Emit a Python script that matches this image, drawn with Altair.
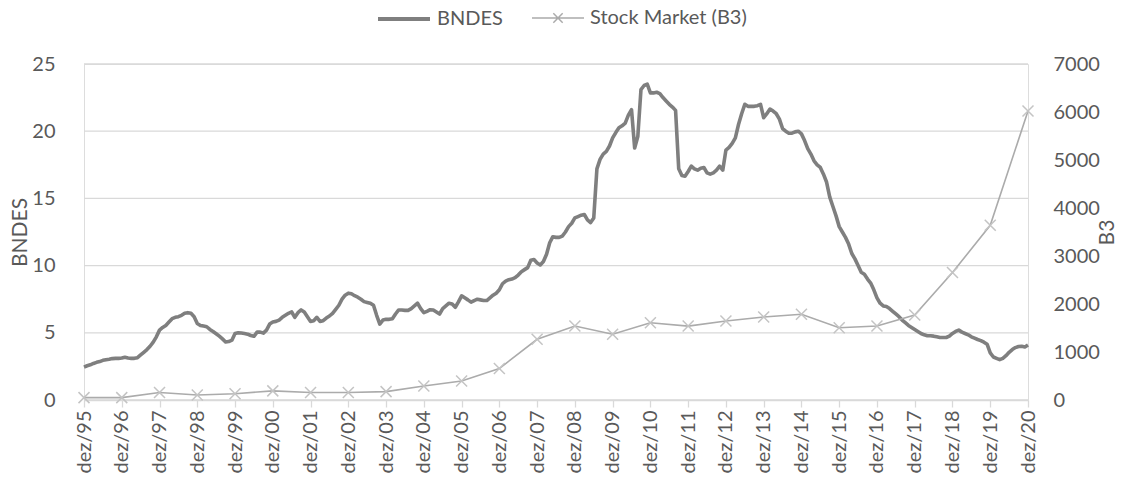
import json
import altair as alt
import pandas as pd

x_labels = ["dez/95", "dez/96", "dez/97", "dez/98", "dez/99", "dez/00", "dez/01",
            "dez/02", "dez/03", "dez/04", "dez/05", "dez/06", "dez/07", "dez/08",
            "dez/09", "dez/10", "dez/11", "dez/12", "dez/13", "dez/14", "dez/15",
            "dez/16", "dez/17", "dez/18", "dez/19", "dez/20"]

series_names = ["BNDES", "Stock Market (B3)"]
left_ticks = [0, 5, 10, 15, 20, 25]
right_ticks = [0, 1000, 2000, 3000, 4000, 5000, 6000, 7000]

# BNDES, monthly from dez/95 to dez/20
bndes_values = [
    2.45,
    2.55, 2.62, 2.72, 2.8, 2.86, 2.95, 3.0, 3.03, 3.08, 3.1, 3.1, 3.12,        # 1996
    3.18, 3.12, 3.1, 3.1, 3.15, 3.35, 3.55, 3.75, 4.0, 4.3, 4.7, 5.2,          # 1997
    5.4, 5.55, 5.8, 6.05, 6.15, 6.2, 6.3, 6.45, 6.5, 6.45, 6.2, 5.7,           # 1998
    5.55, 5.5, 5.45, 5.25, 5.1, 4.93, 4.75, 4.55, 4.32, 4.35, 4.45, 4.95,      # 1999
    5.0, 4.98, 4.95, 4.9, 4.8, 4.74, 5.05, 5.05, 4.98, 5.2, 5.65, 5.8,         # 2000
    5.85, 5.95, 6.15, 6.3, 6.45, 6.55, 6.15, 6.5, 6.7, 6.55, 6.2, 5.85,        # 2001
    5.9, 6.15, 5.85, 5.9, 6.1, 6.25, 6.45, 6.75, 7.05, 7.5, 7.8, 7.95,         # 2002
    7.9, 7.76, 7.65, 7.5, 7.32, 7.26, 7.2, 7.05, 6.3, 5.65, 5.95, 6.0,         # 2003
    6.0, 6.05, 6.4, 6.7, 6.7, 6.67, 6.67, 6.8, 7.0, 7.2, 6.8, 6.5,             # 2004
    6.6, 6.72, 6.7, 6.55, 6.4, 6.8, 7.0, 7.2, 7.15, 6.9, 7.3, 7.75,            # 2005
    7.6, 7.45, 7.28, 7.4, 7.5, 7.45, 7.4, 7.4, 7.6, 7.8, 7.95, 8.2,            # 2006
    8.65, 8.85, 8.95, 9.0, 9.1, 9.3, 9.55, 9.7, 9.85, 10.4, 10.45, 10.2,       # 2007
    10.05, 10.3, 10.85, 11.7, 12.15, 12.1, 12.1, 12.2, 12.5, 12.9, 13.15, 13.55,  # 2008
    13.65, 13.75, 13.8, 13.4, 13.2, 13.55, 17.2, 17.9, 18.3, 18.5, 18.9, 19.5,    # 2009
    19.9, 20.25, 20.4, 20.6, 21.2, 21.6, 18.75, 19.6, 23.1, 23.4, 23.5, 22.85,    # 2010
    22.85, 22.9, 22.8, 22.5, 22.25, 22.0, 21.8, 21.55, 17.2, 16.7, 16.65, 17.0,   # 2011
    17.4, 17.2, 17.1, 17.25, 17.3, 16.9, 16.8, 16.9, 17.1, 17.4, 17.1, 18.6,      # 2012
    18.8, 19.1, 19.5, 20.5, 21.3, 22.0, 21.85, 21.85, 21.85, 21.9, 22.0, 21.0,    # 2013
    21.3, 21.65, 21.5, 21.3, 20.9, 20.2, 20.0, 19.85, 19.85, 19.95, 20.0, 19.8,   # 2014
    19.3, 18.7, 18.3, 17.8, 17.5, 17.3, 16.8, 16.2, 15.1, 14.4, 13.7, 12.9,       # 2015
    12.5, 12.1, 11.6, 10.9, 10.5, 10.0, 9.5, 9.35, 9.0, 8.7, 8.2, 7.6,            # 2016
    7.2, 7.0, 6.95, 6.8, 6.6, 6.4, 6.2, 5.95, 5.75, 5.55, 5.4, 5.25,              # 2017
    5.1, 4.95, 4.85, 4.78, 4.78, 4.75, 4.7, 4.65, 4.65, 4.65, 4.75, 4.95,         # 2018
    5.1, 5.2, 5.05, 4.95, 4.85, 4.7, 4.6, 4.5, 4.42, 4.3, 4.15, 3.5,              # 2019
    3.2, 3.1, 3.0, 3.1, 3.3, 3.55, 3.75, 3.9, 3.98, 4.0, 3.95, 4.1,               # 2020
]

# Stock Market (B3), one value per dez/yy
stock_values = [50, 50, 155, 105, 130, 190, 155, 155, 175, 290, 395, 655, 1265,
                1540, 1370, 1610, 1540, 1645, 1730, 1785, 1505, 1540, 1770, 2655,
                3640, 6020]

bndes_df = pd.DataFrame({
    "month": list(range(len(bndes_values))),
    "value": bndes_values,
    "series": series_names[0],
})
stock_df = pd.DataFrame({
    "month": [12 * i for i in range(len(stock_values))],
    "value": stock_values,
    "series": series_names[1],
})
grid_df = pd.DataFrame({"value": left_ticks})

FONT = "Lato"
TXT = "#595959"
GRID = "#d9d9d9"
BNDES_COLOR = "#7f7f7f"
STOCK_COLOR = "#ababab"
PLOT_W, PLOT_H = 944, 336

x_enc = alt.X(
    "month:Q",
    scale=alt.Scale(domain=[0, 12 * (len(x_labels) - 1)], nice=False, zero=False),
    axis=alt.Axis(
        values=[12 * i for i in range(len(x_labels))],
        labelExpr=f"{json.dumps(x_labels)}[round(datum.value / 12)]",
        labelAngle=270,
        title=None,
        grid=False,
        domainColor=GRID,
        domainWidth=1.3,
        tickColor=GRID,
        tickWidth=1.3,
        tickSize=7,
        labelPadding=3,
        labelFontSize=20,
        labelColor=TXT,
        labelFont=FONT,
        labelOverlap=False,
    ),
)

left_scale = alt.Scale(domain=[0, 25], nice=False)
left_axis = alt.Axis(
    title="BNDES",
    orient="left",
    values=left_ticks,
    grid=False,
    domain=False,
    ticks=False,
    labelPadding=29,
    labelAlign="right",
    labelBaseline="middle",
    labelFontSize=20,
    labelColor=TXT,
    labelFont=FONT,
    titleFontSize=21,
    titleFontWeight="normal",
    titleColor=TXT,
    titleFont=FONT,
    titleAngle=270,
    titleAlign="center",
    titleBaseline="middle",
    titleX=-64,
    titleY=PLOT_H / 2,
)


def legend(x, symbol, stroke_w):
    return alt.Legend(
        title=None,
        orient="none",
        legendX=x,
        legendY=-73,
        direction="horizontal",
        symbolType=symbol,
        symbolSize=2704,
        symbolStrokeWidth=stroke_w,
        symbolFillColor="transparent",
        labelFontSize=20,
        labelColor=TXT,
        labelFont=FONT,
        labelOffset=5,
        labelLimit=300,
    )


grid_rules = alt.Chart(grid_df).mark_rule(color=GRID, strokeWidth=1.3).encode(
    y=alt.Y("value:Q", scale=left_scale, axis=left_axis)
)

bndes_line = alt.Chart(bndes_df).mark_line(strokeWidth=3.6, strokeJoin="round").encode(
    x=x_enc,
    y=alt.Y("value:Q", scale=left_scale, axis=left_axis),
    color=alt.Color(
        "series:N",
        scale=alt.Scale(domain=[series_names[0]], range=[BNDES_COLOR]),
        legend=legend(292, "stroke", 4),
    ),
)

y_right = alt.Y(
    "value:Q",
    scale=alt.Scale(domain=[0, 7000], nice=False),
    axis=alt.Axis(
        title="B3",
        orient="right",
        values=right_ticks,
        format="d",
        grid=False,
        domain=False,
        ticks=False,
        labelPadding=25,
        labelAlign="left",
        labelBaseline="middle",
        labelFontSize=20,
        labelColor=TXT,
        labelFont=FONT,
        titleFontSize=21,
        titleFontWeight="normal",
        titleColor=TXT,
        titleFont=FONT,
        titleAngle=270,
        titleAlign="center",
        titleBaseline="middle",
        titleX=79,
        titleY=PLOT_H / 2,
    ),
)

stock_line = alt.Chart(stock_df).mark_line(strokeWidth=1.6).encode(
    x=x_enc,
    y=y_right,
    color=alt.Color(
        "series:N",
        scale=alt.Scale(domain=[series_names[1]], range=[STOCK_COLOR]),
        legend=legend(447, "M-1,0L1,0M-0.18,-0.18L0.18,0.18M-0.18,0.18L0.18,-0.18", 1.5),
    ),
)
stock_pts = alt.Chart(stock_df).mark_point(
    shape="M-1,-1L1,1M-1,1L1,-1", size=121, filled=False,
    color="#c4c4c4", strokeWidth=1.5, opacity=1,
).encode(x=x_enc, y=y_right)

chart = alt.layer(
    alt.layer(grid_rules, bndes_line),
    alt.layer(stock_line, stock_pts),
).resolve_scale(y="independent", color="independent").resolve_legend(
    color="independent"
).properties(
    width=PLOT_W,
    height=PLOT_H,
    padding={"left": 76, "top": 56, "right": 88, "bottom": 75},
    autosize=alt.AutoSizeParams(type="none"),
).configure_view(stroke=None).configure(font=FONT)

chart.save("out.html", embed_options={"renderer": "svg", "actions": False})
